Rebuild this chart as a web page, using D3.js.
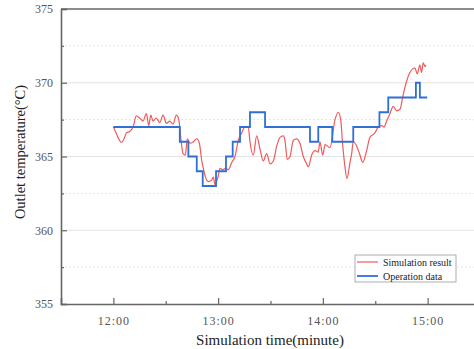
<html lang="en">
<head>
  <meta charset="UTF-8">
  <title>Outlet temperature</title>
  <script src="https://d3js.org/d3.v7.min.js"></script>
  <style>
    body { margin: 0; background: white; }
    svg text { font-family: "Liberation Serif", "Times New Roman", serif; }
  </style>
</head>
<body>
  <svg class="chart" width="474" height="349"></svg>
  <script>
    // time in minutes (12.0 = 12:00)
    const simTime = [12.000, 12.026, 12.050, 12.078, 12.102, 12.124, 12.156, 12.188, 12.219, 12.252,
      12.283, 12.315, 12.338, 12.357, 12.379, 12.410, 12.443, 12.474, 12.506, 12.538,
      12.570, 12.601, 12.624, 12.649, 12.665, 12.687, 12.706, 12.732, 12.763, 12.796,
      12.821, 12.844, 12.856, 12.875, 12.906, 12.939, 12.954, 12.970, 13.002, 13.018,
      13.044, 13.071, 13.097, 13.130, 13.161, 13.193, 13.225, 13.257, 13.288, 13.304,
      13.336, 13.368, 13.400, 13.431, 13.464, 13.495, 13.527, 13.559, 13.591, 13.622,
      13.638, 13.660, 13.686, 13.718, 13.750, 13.781, 13.813, 13.845, 13.861, 13.893,
      13.925, 13.956, 13.972, 13.998, 14.021, 14.068, 14.116, 14.147, 14.170, 14.189,
      14.211, 14.230, 14.259, 14.275, 14.290, 14.323, 14.354, 14.380, 14.418, 14.449,
      14.497, 14.529, 14.561, 14.583, 14.609, 14.640, 14.672, 14.704, 14.736, 14.767,
      14.799, 14.831, 14.878, 14.901, 14.926, 14.942, 14.958, 14.975, 14.984];
    const simValue = [367.0, 366.6, 366.2, 365.95, 366.2, 366.6, 366.7, 367.0, 367.75, 367.6,
      367.4, 367.9, 367.1, 367.8, 367.4, 367.6, 367.3, 367.8, 367.25, 367.4,
      367.2, 367.8, 367.5, 365.9, 365.2, 365.1, 366.2, 365.9, 366.0, 366.2,
      365.9, 364.7, 364.3, 363.7, 363.3, 363.4, 363.6, 363.1, 363.7, 364.2,
      364.1, 364.2, 364.1, 364.6, 365.0, 366.1, 366.6, 367.0, 367.0, 366.0,
      365.1, 366.4, 365.5, 364.7, 365.2, 364.5, 364.7, 365.7, 366.3, 366.4,
      366.1, 364.8, 365.0, 366.1, 366.2, 365.9, 365.0, 364.5, 364.3, 365.1,
      365.4, 365.3, 366.0, 365.1, 365.8, 365.6, 367.5, 368.0, 367.5, 365.8,
      364.3, 363.5, 364.6, 365.2, 366.0, 365.7, 365.1, 364.6, 365.4, 366.3,
      366.6, 367.0, 367.1, 367.0, 367.4, 367.9, 368.4, 368.1, 368.2, 369.2,
      370.1, 370.7, 371.0, 370.6, 371.2, 370.7, 371.35, 371.1, 371.2];

    const opTime = [12.000, 12.634, 12.716, 12.796, 12.853, 12.980, 13.075, 13.139, 13.209, 13.304,
      13.448, 13.877, 13.956, 14.090, 14.290, 14.540, 14.624, 14.888, 14.926, 14.996];
    const opValue = [367, 366, 365, 364, 363, 364, 365, 366, 367, 368,
      367, 366, 367, 366, 367, 368, 369, 370, 369, 369];

    const yTicks = [355, 360, 365, 370, 375];
    const yMinor = [357.5, 362.5, 367.5, 372.5];
    const xTicks = [12, 13, 14, 15];
    const xMinor = [12.5, 13.5, 14.5];
    const seriesNames = ["Simulation result", "Operation data"];
    const seriesColors = ["#f05a5a", "#2f6fd8"];

    const svg = d3.select('svg.chart');
    const plotLeft = 61, plotTop = 9, plotBottom = 304, plotRight = 480;

    const x = d3.scaleLinear().domain([11.5, 15.5]).range([plotLeft, plotRight]);
    const y = d3.scaleLinear().domain([355, 375]).range([plotBottom, plotTop]);

    // grid
    const grid = svg.append('g');
    grid.selectAll('line.major').data(yTicks.slice(1, -1)).join('line')
      .attr('class', 'major')
      .attr('x1', plotLeft).attr('x2', plotRight)
      .attr('y1', d => y(d)).attr('y2', d => y(d))
      .attr('stroke', '#e4e4e4').attr('stroke-width', 1);
    grid.selectAll('line.minor').data(yMinor).join('line')
      .attr('class', 'minor')
      .attr('x1', plotLeft).attr('x2', plotRight)
      .attr('y1', d => y(d)).attr('y2', d => y(d))
      .attr('stroke', '#e4e4e4').attr('stroke-width', 1)
      .attr('stroke-dasharray', '2,2');

    // lines
    const simLine = d3.line().x(d => x(d[0])).y(d => y(d[1])).curve(d3.curveMonotoneX);
    svg.append('path')
      .datum(d3.zip(simTime, simValue))
      .attr('d', simLine)
      .attr('fill', 'none').attr('stroke', seriesColors[0]).attr('stroke-width', 1.2);

    const opLine = d3.line().x(d => x(d[0])).y(d => y(d[1])).curve(d3.curveStepAfter);
    svg.append('path')
      .datum(d3.zip(opTime, opValue))
      .attr('d', opLine)
      .attr('fill', 'none').attr('stroke', seriesColors[1]).attr('stroke-width', 1.8);

    // axes
    const axisColor = '#666';
    svg.append('g').attr('transform', `translate(${plotLeft},0)`)
      .call(d3.axisLeft(y).tickValues(yTicks).tickSize(-6).tickPadding(8).tickFormat(d3.format('d')));
    svg.append('g').attr('transform', `translate(${plotLeft},0)`)
      .call(d3.axisLeft(y).tickValues(yMinor).tickSize(-3).tickFormat(''))
      .call(g => g.select('.domain').remove());
    const xAxis = svg.append('g').attr('transform', `translate(0,${plotBottom})`)
      .call(d3.axisBottom(x).tickValues(xTicks).tickSize(-6).tickPadding(12).tickFormat(d => d + ':00'));
    svg.append('g').attr('transform', `translate(0,${plotBottom})`)
      .call(d3.axisBottom(x).tickValues(xMinor).tickSize(-3).tickFormat(''))
      .call(g => g.select('.domain').remove());

    svg.selectAll('.tick line').attr('stroke', axisColor).attr('stroke-width', 1.2);
    svg.selectAll('.domain').attr('stroke', axisColor).attr('stroke-width', 1.6);
    svg.selectAll('.tick text').attr('fill', '#555').attr('font-size', 12)
      .style('font-family', '"Liberation Serif", serif');
    xAxis.selectAll('.tick text').attr('letter-spacing', 1);

    // top border
    svg.append('line').attr('x1', plotLeft).attr('x2', plotRight).attr('y1', plotTop).attr('y2', plotTop)
      .attr('stroke', axisColor).attr('stroke-width', 1.6);

    // titles
    svg.append('text').attr('x', 270).attr('y', 345).attr('text-anchor', 'middle')
      .attr('font-size', 15).attr('fill', '#222').text('Simulation time(minute)');
    svg.append('text').attr('transform', 'translate(25,152) rotate(-90)').attr('text-anchor', 'middle')
      .attr('font-size', 14.5).attr('fill', '#222').text('Outlet temperature(°C)');

    // legend
    const lg = svg.append('g').attr('transform', 'translate(355,255)');
    lg.append('rect').attr('width', 101).attr('height', 27)
      .attr('fill', 'white').attr('stroke', '#999').attr('stroke-width', 0.8);
    seriesNames.forEach((name, i) => {
      lg.append('line').attr('x1', 2).attr('x2', 23)
        .attr('y1', 7 + i * 14).attr('y2', 7 + i * 14)
        .attr('stroke', seriesColors[i]).attr('stroke-width', i ? 1.8 : 1.2);
      lg.append('text').attr('x', 28).attr('y', 10.5 + i * 14)
        .attr('font-size', 10).attr('fill', '#222').text(name);
    });
  </script>
</body>
</html>
